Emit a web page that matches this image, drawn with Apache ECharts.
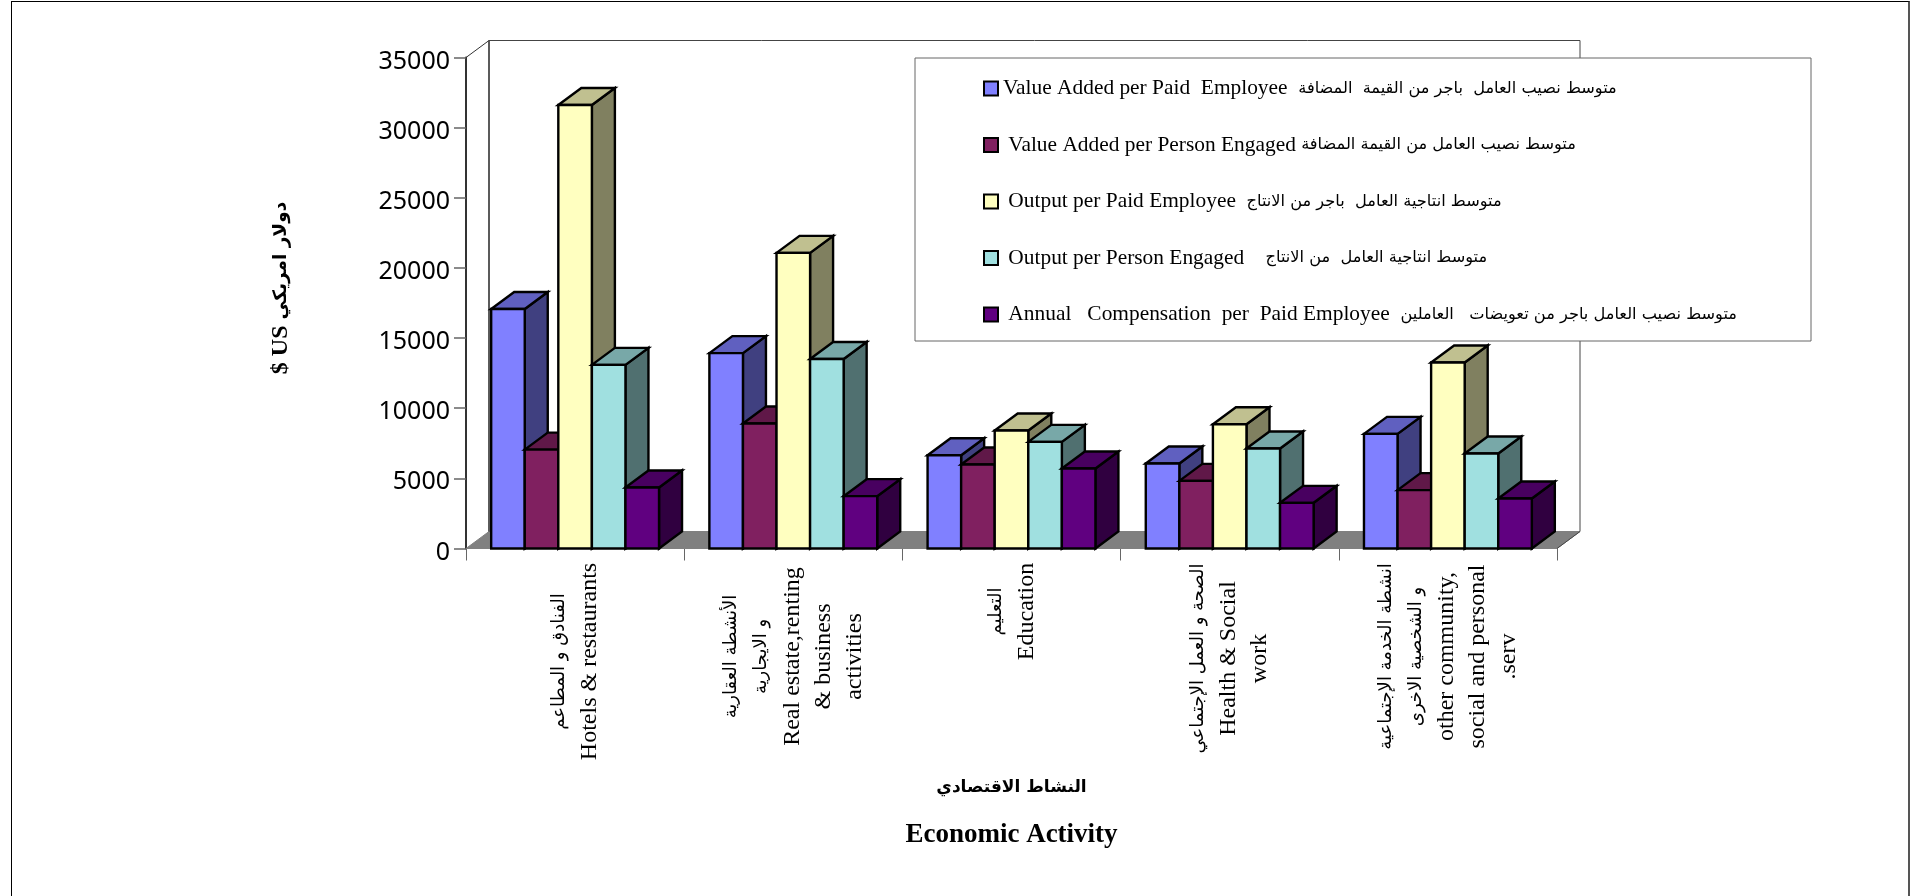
<!DOCTYPE html>
<html><head><meta charset="utf-8">
<style>html,body{margin:0;padding:0;background:#fff}#c{position:absolute;left:0;top:0;width:1912px;height:896px}
#f{position:absolute;left:11px;top:1px;width:1899px;height:895px;border:solid #000;border-width:1.5px 2px 0 1.5px;box-sizing:border-box;border-right-color:#555}</style>
<script src="https://cdn.jsdelivr.net/npm/echarts@6/dist/echarts.min.js"></script>
</head><body><div id="f"></div><div id="c"></div>
<script>
const categories = [
  ['الفنادق و المطاعم','Hotels & restaurants'],
  ['الأنشطة العقارية','و الايجارية','Real estate,renting','& business','activities'],
  ['التعليم','Education'],
  ['الصحة و العمل الإجتماعي','Health & Social','work'],
  ['انشطة الخدمة الإجتماعية','و الشخصية الاخرى','other community,','social and personal','.serv']
];
const categoryBlockWidths = [200, 190, 100, 194, 190];
const valueAddedPaid = [17070, 13925, 6650, 6060, 8170];
const valueAddedEngaged = [7050, 8915, 5990, 4820, 4160];
const outputPaid = [31610, 21075, 8410, 8860, 13260];
const outputEngaged = [13090, 13510, 7600, 7130, 6770];
const compensation = [4350, 3730, 5700, 3255, 3560];
const legendEn = ['Value Added per Paid  Employee  ',' Value Added per Person Engaged ',' Output per Paid Employee  ',' Output per Person Engaged    ',' Annual   Compensation  per  Paid Employee  '];
const legendAr = ['متوسط نصيب العامل  باجر من القيمة  المضافة','متوسط نصيب العامل من القيمة المضافة','متوسط انتاجية العامل  باجر من الانتاج','متوسط انتاجية العامل  من الانتاج','متوسط نصيب العامل باجر من تعويضات   العاملين'];
const seriesValues = [valueAddedPaid, valueAddedEngaged, outputPaid, outputEngaged, compensation];
const frontColors = ['#8080FF','#802060','#FFFFC0','#A0E0E0','#600080'];
const topColors   = ['#6060C0','#601848','#C0C090','#78A8A8','#480060'];
const sideColors  = ['#404080','#401030','#808060','#507070','#300040'];
const DX = 23, DY = 17;
const serif = '"Liberation Serif","DejaVu Sans"';
const ar = '"DejaVu Sans"';

const chart = echarts.init(document.getElementById('c'), null, {renderer:'canvas'});

function barItem(i){
  return function(params, api){
    const band = api.size([1,0])[0];
    const w = band/6.5;
    const idx = api.value(0);
    const c = api.coord([idx, 0]);
    const t = api.coord([idx, api.value(1)]);
    const x0 = c[0] - 2.5*w + i*w, x1 = x0 + w, yb = c[1], yt = t[1];
    const ls = {stroke:'#000', lineWidth:2.4, lineJoin:'miter'};
    return {type:'group', children:[
      {type:'polygon', shape:{points:[[x1,yb],[x1+DX,yb-DY],[x1+DX,yt-DY],[x1,yt]]}, style:{fill:sideColors[i],...ls}},
      {type:'polygon', shape:{points:[[x0,yt],[x0+DX,yt-DY],[x1+DX,yt-DY],[x1,yt]]}, style:{fill:topColors[i],...ls}},
      {type:'rect', shape:{x:x0,y:yt,width:w,height:yb-yt}, style:{fill:frontColors[i],...ls}}
    ]};
  };
}

function frameItem(params, api){
  const band = api.size([1,0])[0];
  const first = api.coord([0, 0]), last = api.coord([categories.length-1, 0]);
  const a = [first[0]-band/2, first[1]], b = [last[0]+band/2, last[1]];
  const top = api.coord([0, 35000]);
  return {type:'group', children:[
    {type:'polygon', shape:{points:[[a[0],a[1]],[a[0]+DX,a[1]-DY],[b[0]+DX,b[1]-DY],[b[0],b[1]]]}, style:{fill:'#808080',stroke:'#808080',lineWidth:1}},
    {type:'polyline', shape:{points:[[a[0]+DX,a[1]-DY],[a[0]+DX,top[1]-DY],[b[0]+DX,top[1]-DY],[b[0]+DX,b[1]-DY],[b[0],b[1]]]}, style:{fill:'none',stroke:'#444',lineWidth:1}},
    {type:'line', shape:{x1:a[0],y1:top[1],x2:a[0]+DX,y2:top[1]-DY}, style:{stroke:'#333',lineWidth:1}},
    {type:'line', shape:{x1:a[0]+DX,y1:a[1]-DY,x2:a[0]+DX,y2:top[1]-DY}, style:{stroke:'#444',lineWidth:1.5}}
  ]};
}

const catRich = {};
categoryBlockWidths.forEach((w,i)=>{
  catRich['a'+i] = {width:w, align:'center', fontFamily:ar, fontSize:18, lineHeight:30, color:'#000'};
  catRich['e'+i] = {width:w, align:'center', fontFamily:serif, fontSize:24, lineHeight:31, color:'#000'};
});

const names = legendEn.map((e,i)=>e+legendAr[i]);

const option = {
  animation:false,
  backgroundColor:'transparent',
  grid:{left:466, right:1912-1557, top:57.5, bottom:896-548.5, containLabel:false},
  xAxis:{
    type:'category',
    data:categories.map((c,i)=>i),
    axisLine:{show:true, lineStyle:{color:'#555',width:1}},
    axisTick:{show:true, alignWithLabel:false, length:12, lineStyle:{color:'#666',width:1}},
    axisLabel:{
      interval:0, rotate:90, align:'right', verticalAlign:'middle', margin:13, color:'#000',
      formatter:(v)=>{const i=+v; return categories[i].map(l=>(/[\u0600-\u06FF]/.test(l)?'{a':'{e')+i+'|'+l+'}').join('\n');},
      rich:catRich
    },
    name:'{ar|النشاط الاقتصادي}\n{en|Economic Activity}',
    nameLocation:'middle', nameGap:211,
    nameTextStyle:{color:'#000', rich:{
      ar:{fontFamily:ar,fontWeight:'bold',fontSize:17,lineHeight:56,color:'#000'},
      en:{fontFamily:serif,fontWeight:'bold',fontSize:27,lineHeight:40,color:'#000'}}}
  },
  yAxis:{
    type:'value', min:0, max:35000, interval:5000,
    axisLine:{show:true, lineStyle:{color:'#333',width:2}},
    axisTick:{show:true, length:12, lineStyle:{color:'#666',width:1.5}},
    splitLine:{show:false},
    axisLabel:{color:'#000', margin:16, formatter:(v)=>'{v|'+v+'}',
      rich:{v:{fontSize:25, color:'#000', fontFamily:'"Noto Sans",sans-serif', padding:[8,0,0,0]}}},
    name:'{en|$ US}  {ar|دولار امريكي}',
    nameLocation:'middle', nameGap:173,
    nameTextStyle:{color:'#000', fontFamily:serif, padding:[0,0,0,30], rich:{
      en:{fontFamily:serif,fontWeight:'bold',fontSize:24,color:'#000'},
      ar:{fontFamily:ar,fontWeight:'bold',fontSize:18.5,color:'#000'}}}
  },
  legend:{
    show:true, orient:'vertical', left:983, top:78, itemWidth:14, itemHeight:14, itemGap:35.5, padding:0, z:6,
    icon:'rect', selectedMode:false,
    data:names,
    formatter:(n)=>{const i=names.indexOf(n); return '{en|'+legendEn[i]+'}{ar|'+legendAr[i]+'}';},
    textStyle:{color:'#000', rich:{
      en:{fontFamily:serif,fontSize:21.4,lineHeight:20,color:'#000'},
      ar:{fontFamily:ar,fontSize:16.2,lineHeight:20,color:'#000'}}}
  },
  graphic:[{type:'rect', z:5, shape:{x:915,y:58,width:896,height:283}, style:{fill:'#fff',stroke:'#666',lineWidth:1}}],
  series:[
    {name:'frame', type:'custom', renderItem:frameItem, data:[[0,0]], encode:{x:0,y:1}, z:1, silent:true, clip:false},
    ...seriesValues.map((vals,i)=>({
      name:names[i], type:'custom', renderItem:barItem(i), clip:false, z:2,
      itemStyle:{color:frontColors[i], borderColor:'#000', borderWidth:2},
      encode:{x:0,y:1},
      data:vals.map((v,k)=>[k,v])
    }))
  ]
};
chart.setOption(option);
</script></body></html>
